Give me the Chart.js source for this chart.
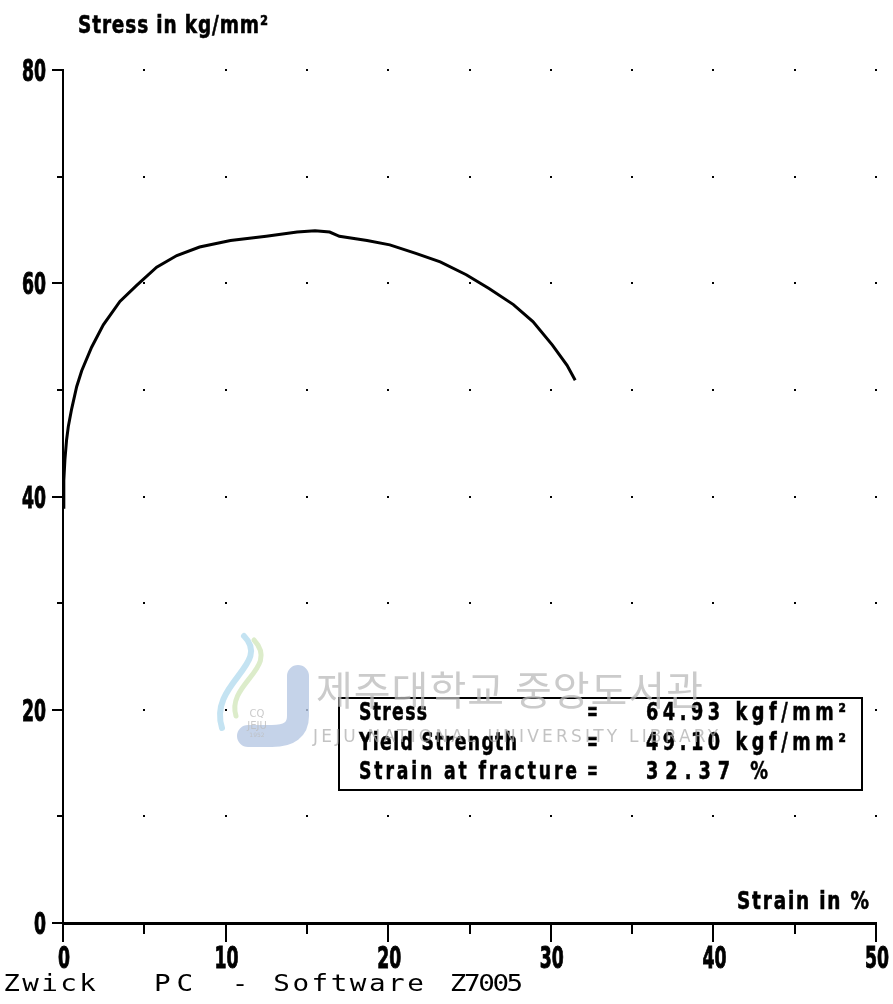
<!DOCTYPE html>
<html>
<head>
<meta charset="utf-8">
<script src="https://cdn.jsdelivr.net/npm/chart.js@4.4.0/dist/chart.umd.min.js"></script>
<style>
  html, body { margin: 0; padding: 0; background: #fff; }
  canvas { display: block; }
</style>
</head>
<body>
<canvas id="chart" width="893" height="1004"></canvas>
<script>
// Tensile test curve: strain (%) vs stress (kg/mm²)
const strain = [0.0, 0.05, 0.12, 0.22, 0.33, 0.53, 0.84, 1.15, 1.76, 2.48, 3.5, 4.53, 5.76, 7.0, 8.4,
  10.3, 12.5, 14.4, 15.5, 16.4, 17.0, 18.7, 20.1, 21.7, 23.2, 24.8, 26.2, 27.7, 28.9, 30.1, 31.0, 31.5];
const stress = [39.0, 41.5, 43.5, 45.3, 46.6, 48.2, 50.3, 51.8, 54.0, 56.1, 58.3, 59.8, 61.5, 62.6, 63.4,
  64.0, 64.4, 64.8, 64.93, 64.8, 64.4, 64.0, 63.6, 62.8, 62.0, 60.8, 59.5, 58.0, 56.4, 54.2, 52.3, 50.9];

// Axis ranges and tick spacing
const xRange = [0, 50];
const yRange = [0, 80];
const xStep = 5, xLabelEvery = 10;
const yStep = 10, yLabelEvery = 20;

// Result table
const resultNames = ['Stress', 'Yield Strength', 'Strain at fracture'];
const resultValues = ['64.93 kgf/mm²', '49.10 kgf/mm²', '32.37 %'];

const yTitle = 'Stress in kg/mm²';
const xTitle = 'Strain in %';
const footerParts = ['Zwick', 'PC', '-', 'Software', 'Z7005'];
const watermarkKo = '제주대학교 중앙도서관';
const watermarkEn = 'JEJU NATIONAL UNIVERSITY LIBRARY';

const COND = "'DejaVu Sans Condensed', 'DejaVu Sans', sans-serif";
const MONO = "'DejaVu Sans Mono', 'Liberation Mono', monospace";

function line(ctx, x1, y1, x2, y2) {
  ctx.beginPath(); ctx.moveTo(x1, y1); ctx.lineTo(x2, y2); ctx.stroke();
}

// Narrow glyphs (squeezed by sx) spread evenly over a given width
function spaced(ctx, text, x, y, width, sx, align, heavy) {
  const chars = Array.from(text);
  const widths = chars.map(c => ctx.measureText(c).width * sx);
  const total = widths.reduce((a, b) => a + b, 0);
  const gap = chars.length > 1 ? (width - total) / (chars.length - 1) : 0;
  let cx = align === 'right' ? x - width : align === 'center' ? x - width / 2 : x;
  if (chars.length === 1) cx += (width - total) / 2;
  ctx.save();
  ctx.textAlign = 'left';
  ctx.strokeStyle = ctx.fillStyle;
  ctx.lineWidth = heavy || 0;
  chars.forEach((c, i) => {
    ctx.save();
    ctx.translate(cx, y);
    ctx.scale(sx, 1);
    ctx.fillText(c, 0, 0);
    if (heavy) ctx.strokeText(c, 0, 0);
    ctx.restore();
    cx += widths[i] + gap;
  });
  ctx.restore();
}

// Dot grid, tick marks and tick labels, placed from the scales
const plotMarks = {
  id: 'plotMarks',
  beforeDatasetsDraw(chart) {
    const { ctx, scales: { x, y } } = chart;
    ctx.save();
    ctx.fillStyle = '#000';
    x.ticks.forEach(tx => {
      if (tx.value === xRange[0]) return;
      y.ticks.forEach(ty => {
        if (ty.value === yRange[0]) return;
        const px = Math.round(x.getPixelForValue(tx.value));
        const py = Math.round(y.getPixelForValue(ty.value));
        ctx.fillRect(px - 1, py - 1, 2, 2);
      });
    });
    ctx.strokeStyle = '#000';
    ctx.lineWidth = 2;
    y.ticks.forEach(t => {
      const py = Math.round(y.getPixelForValue(t.value));
      const len = t.value % yLabelEvery === 0 ? 11 : 6;
      line(ctx, x.left - len, py, x.left, py);
    });
    x.ticks.forEach(t => {
      const px = Math.round(x.getPixelForValue(t.value));
      const len = t.value % xLabelEvery === 0 ? 19 : 11;
      line(ctx, px, y.bottom, px, y.bottom + len);
    });

    ctx.font = `bold 30px ${COND}`;
    const sx = 0.64;
    ctx.textBaseline = 'alphabetic';
    y.ticks.forEach(t => {
      if (t.value % yLabelEvery !== 0) return;
      const s = String(t.value);
      spaced(ctx, s, x.left - 17, y.getPixelForValue(t.value) + 11, 12 * s.length, sx, 'right', 0.9);
    });
    x.ticks.forEach(t => {
      if (t.value % xLabelEvery !== 0) return;
      const s = String(t.value);
      spaced(ctx, s, x.getPixelForValue(t.value) + 1, 968, 12 * s.length, sx, 'center', 0.9);
    });
    ctx.restore();
  }
};

// Titles, result box, footer and library stamp
const annotations = {
  id: 'annotations',
  afterDraw(chart) {
    const { ctx } = chart;
    ctx.save();
    ctx.fillStyle = '#000';
    ctx.textBaseline = 'alphabetic';

    ctx.font = `bold 25px ${COND}`;
    spaced(ctx, yTitle, 78, 33, 190, 0.82, 'left', 0.6);
    spaced(ctx, xTitle, 869, 909, 132, 0.82, 'right', 0.6);

    // result box
    ctx.fillStyle = '#fff';
    ctx.fillRect(339, 698, 523, 92);
    ctx.strokeStyle = '#000';
    ctx.lineWidth = 2;
    ctx.strokeRect(339, 698, 523, 92);
    ctx.fillStyle = '#000';
    ctx.font = `bold 24px ${COND}`;
    const rows = [720, 750, 779];
    const nameW = [68, 158, 218];
    const valueW = [200, 200, 122];
    resultNames.forEach((n, i) => {
      spaced(ctx, n, 359, rows[i], nameW[i], 0.8, 'left', 0.5);
      spaced(ctx, '=', 588, rows[i], 9, 0.6, 'left', 0.6);
      spaced(ctx, resultValues[i], 646, rows[i], valueW[i], 0.82, 'left', 0.5);
    });

    // footer, fixed pitch per word
    ctx.font = `23px ${MONO}`;
    ctx.textAlign = 'center';
    const spans = [[2, 97], [151, 196], [231, 249], [272, 425], [451, 522]];
    footerParts.forEach((w, i) => {
      const [x0, x1] = spans[i];
      const pitch = (x1 - x0) / w.length;
      for (let k = 0; k < w.length; k++) {
        ctx.save();
        ctx.translate(x0 + pitch * (k + 0.5), 991);
        ctx.scale(1.2, 1);
        ctx.fillText(w[k], 0, 0);
        ctx.restore();
      }
    });

    // library stamp
    ctx.globalAlpha = 0.8;
    ctx.lineCap = 'round';
    ctx.strokeStyle = '#b7c8e3';
    ctx.lineWidth = 22;
    ctx.beginPath();
    ctx.moveTo(298, 676);
    ctx.lineTo(298, 716);
    ctx.quadraticCurveTo(298, 736, 272, 736);
    ctx.lineTo(248, 736);
    ctx.stroke();
    ctx.lineWidth = 6;
    ctx.strokeStyle = '#b5dcef';
    ctx.beginPath();
    ctx.moveTo(244, 636);
    ctx.bezierCurveTo(272, 664, 208, 684, 222, 728);
    ctx.stroke();
    ctx.strokeStyle = '#d3e7bd';
    ctx.lineWidth = 5;
    ctx.beginPath();
    ctx.moveTo(254, 640);
    ctx.bezierCurveTo(280, 668, 226, 684, 236, 716);
    ctx.stroke();
    ctx.fillStyle = '#bdbdbd';
    ctx.font = '10px "DejaVu Sans", sans-serif';
    ctx.textAlign = 'center';
    ctx.fillText('CQ', 257, 717);
    ctx.fillText('JEJU', 257, 729);
    ctx.font = '6px "DejaVu Sans", sans-serif';
    ctx.fillText('1952', 257, 737);

    ctx.globalAlpha = 1;
    ctx.fillStyle = 'rgba(185,185,185,0.75)';
    ctx.textAlign = 'left';
    ctx.font = `40px 'Noto Sans CJK KR', sans-serif`;
    ctx.letterSpacing = '1px';
    ctx.fillText(watermarkKo, 316, 705);
    ctx.fillStyle = 'rgba(170,170,170,0.7)';
    ctx.font = `17px 'DejaVu Sans', sans-serif`;
    ctx.letterSpacing = '3.2px';
    ctx.fillText(watermarkEn, 313, 742);
    ctx.restore();
  }
};

new Chart(document.getElementById('chart'), {
  type: 'scatter',
  data: {
    datasets: [{
      data: strain.map((s, i) => ({ x: s, y: stress[i] })),
      showLine: true,
      borderColor: '#000',
      borderWidth: 3,
      pointRadius: 0,
      tension: 0,
      fill: false
    }]
  },
  options: {
    responsive: false,
    animation: false,
    layout: { padding: { left: 0, right: 17, top: 70, bottom: 0 } },
    plugins: { legend: { display: false }, tooltip: { enabled: false } },
    scales: {
      x: {
        type: 'linear', min: xRange[0], max: xRange[1],
        afterFit: s => { s.height = 81; s.paddingLeft = 0; s.paddingRight = 0; },
        grid: { display: false },
        border: { display: true, color: '#000', width: 3 },
        ticks: { stepSize: xStep, autoSkip: false, display: false }
      },
      y: {
        type: 'linear', min: yRange[0], max: yRange[1],
        afterFit: s => { s.width = 63; s.paddingTop = 0; s.paddingBottom = 0; },
        grid: { display: false },
        border: { display: true, color: '#000', width: 2 },
        ticks: { stepSize: yStep, autoSkip: false, display: false }
      }
    }
  },
  plugins: [plotMarks, annotations]
});
</script>
</body>
</html>
